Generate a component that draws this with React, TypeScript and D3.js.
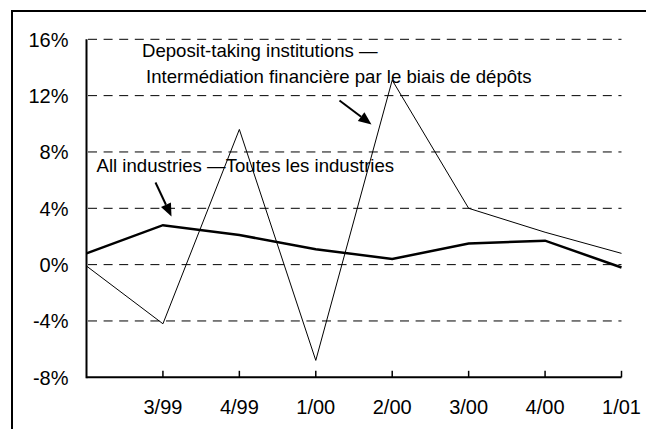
import React from "react";
import * as d3 from "d3";

const categories = ["2/99", "3/99", "4/99", "1/00", "2/00", "3/00", "4/00", "1/01"];
const tickLabels = ["", "3/99", "4/99", "1/00", "2/00", "3/00", "4/00", "1/01"];
const allIndustries = [0.8, 2.8, 2.1, 1.1, 0.4, 1.5, 1.7, -0.2];
const depositTaking = [-0.1, -4.2, 9.6, -6.8, 13.1, 4.0, 2.3, 0.8];
const yTicks = [16, 12, 8, 4, 0, -4, -8];

const W = 646;
const H = 429;
const FONT = "'Liberation Sans', Arial, sans-serif";

export default function App() {
  const x = d3.scalePoint<string>().domain(categories).range([86.5, 621.5]);
  const y = d3.scaleLinear().domain([-8, 16]).range([377.3, 39.3]);
  const line = d3
    .line<number>()
    .x((_, i) => x(categories[i]) as number)
    .y((d) => y(d));

  const x0 = x.range()[0];
  const x1 = x.range()[1];

  const arrow = (sx: number, sy: number, ex: number, ey: number, key: string) => {
    const ang = Math.atan2(ey - sy, ex - sx);
    const len = 13;
    const half = 5.5;
    const bx = ex - len * Math.cos(ang);
    const by = ey - len * Math.sin(ang);
    const px = -Math.sin(ang);
    const py = Math.cos(ang);
    const pts = [
      [ex, ey],
      [bx + half * px, by + half * py],
      [bx - half * px, by - half * py],
    ]
      .map((p) => p.join(","))
      .join(" ");
    return (
      <g key={key}>
        <line x1={sx} y1={sy} x2={bx} y2={by} stroke="#000" strokeWidth={2} />
        <polygon points={pts} fill="#000" />
      </g>
    );
  };

  return (
    <svg
      width={W}
      height={H}
      style={{ position: "absolute", left: 0, top: 0, background: "#fff" }}
      fontFamily={FONT}
    >
      {/* frame */}
      <line x1={12} y1={11} x2={W} y2={11} stroke="#000" strokeWidth={2} />
      <line x1={12} y1={10} x2={12} y2={H} stroke="#000" strokeWidth={2} />

      {/* grid */}
      {yTicks
        .filter((t) => t !== -8)
        .map((t) => (
          <line
            key={"g" + t}
            x1={x0 + 1.5}
            x2={x1}
            y1={y(t)}
            y2={y(t)}
            stroke="#000"
            strokeWidth={1}
            strokeDasharray="9,6.6"
          />
        ))}

      {/* y labels */}
      {yTicks.map((t) => (
        <text
          key={"yl" + t}
          x={68.5}
          y={y(t)}
          dy="0.36em"
          textAnchor="end"
          fontSize={20}
          fill="#000"
        >
          {t + "%"}
        </text>
      ))}

      {/* series */}
      <path d={line(depositTaking) || ""} fill="none" stroke="#000" strokeWidth={1} strokeLinejoin="miter" />
      <path d={line(allIndustries) || ""} fill="none" stroke="#000" strokeWidth={2.5} strokeLinejoin="miter" />

      {/* axes */}
      <line x1={x0} x2={x0} y1={y(16)} y2={y(-8) + 1} stroke="#000" strokeWidth={2} />
      <line x1={x0} x2={x1} y1={y(-8)} y2={y(-8)} stroke="#000" strokeWidth={2} />
      {categories.map((c, i) =>
        i === 0 ? null : (
          <g key={"xt" + c}>
            <line x1={x(c)} x2={x(c)} y1={y(-8)} y2={y(-8) - 6.5} stroke="#000" strokeWidth={1.5} />
            <text x={x(c)} y={414} textAnchor="middle" fontSize={20} fill="#000">
              {tickLabels[i]}
            </text>
          </g>
        )
      )}

      {/* annotations */}
      <text x={142} y={56.5} fontSize={18.6} fill="#000">
        Deposit-taking institutions —
      </text>
      <text x={146} y={82.5} fontSize={18.6} fill="#000">
        Intermédiation financière par le biais de dépôts
      </text>
      <text x={96.5} y={172.3} fontSize={18.6} fill="#000">
        All industries —Toutes les industries
      </text>
      {arrow(155.5, 182.5, 171.5, 216.5, "a1")}
      {arrow(339.5, 100.5, 371.5, 124.5, "a2")}
    </svg>
  );
}
